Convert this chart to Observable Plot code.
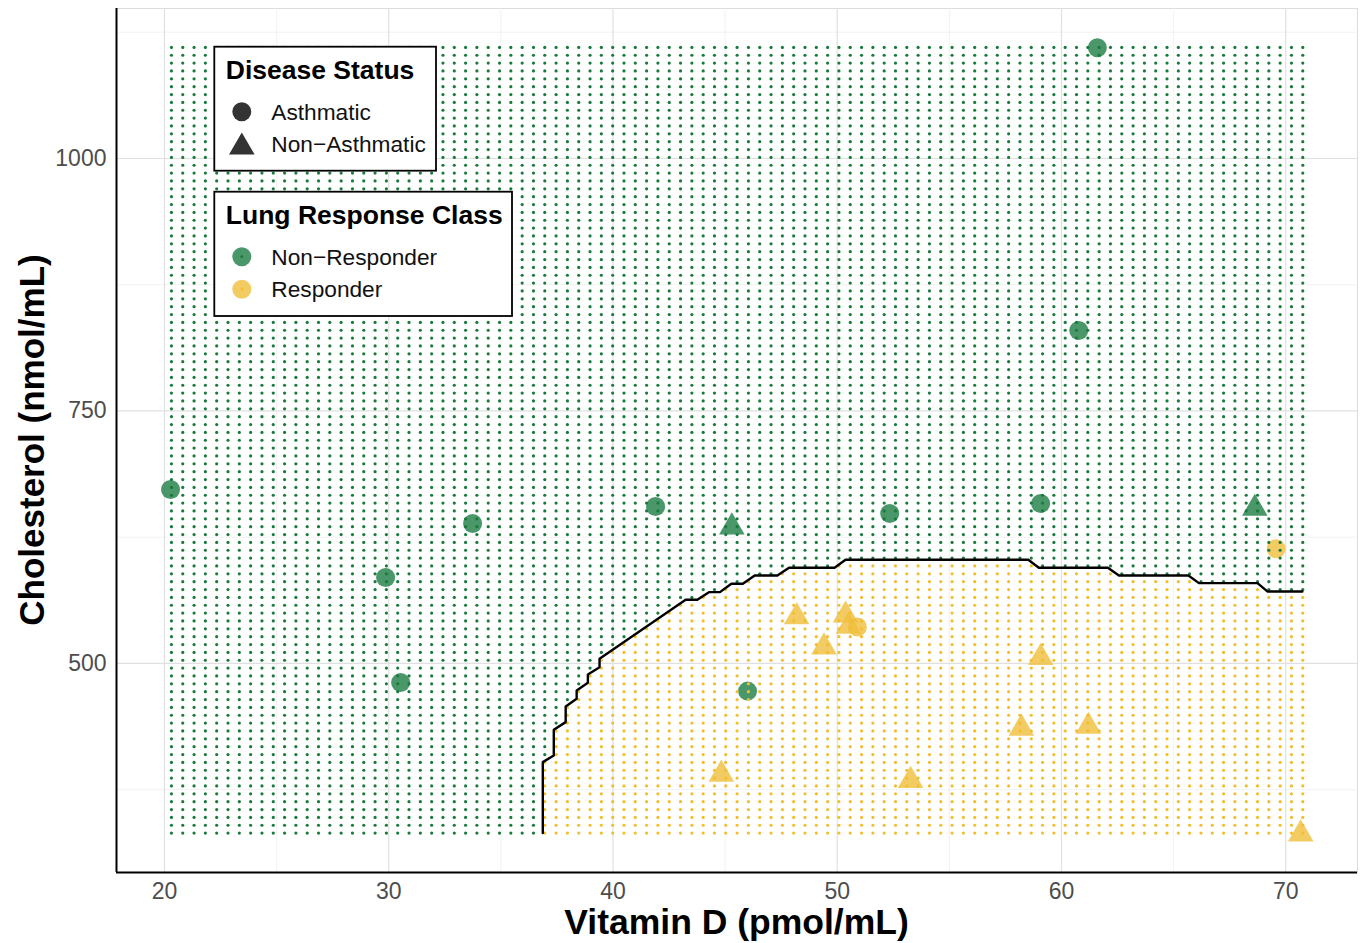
<!DOCTYPE html>
<html>
<head>
<meta charset="utf-8">
<script src="https://cdn.jsdelivr.net/npm/d3@7"></script>
<script src="https://cdn.jsdelivr.net/npm/@observablehq/plot@0.6"></script>
<style>
  html, body { margin: 0; padding: 0; background: #fff; }
  #chart { width: 1364px; height: 943px; }
</style>
</head>
<body>
<div id="chart"></div>
<script>
// ---- Observed points ----
const vitD = [20.27, 29.86, 30.53, 33.74, 41.9, 46.0, 52.34, 59.07, 60.77, 61.6,
              45.3, 68.62,
              69.57, 50.9,
              48.19, 50.37, 50.5, 49.41, 59.07, 44.83, 53.27, 58.21, 61.2, 70.67];
const cholesterol = [672.3, 585.1, 481.2, 638.6, 655.4, 472.6, 648.5, 658.4, 829.7, 1109.6,
              635, 653.5,
              613.6, 536,
              546, 547.8, 536.6, 516.2, 505.7, 390.2, 384, 435.7, 437.6, 331];
const diseaseStatus = ["Asthmatic","Asthmatic","Asthmatic","Asthmatic","Asthmatic","Asthmatic","Asthmatic","Asthmatic","Asthmatic","Asthmatic",
              "Non-Asthmatic","Non-Asthmatic",
              "Asthmatic","Asthmatic",
              "Non-Asthmatic","Non-Asthmatic","Non-Asthmatic","Non-Asthmatic","Non-Asthmatic","Non-Asthmatic","Non-Asthmatic","Non-Asthmatic","Non-Asthmatic","Non-Asthmatic"];
const responseClass = ["Non-Responder","Non-Responder","Non-Responder","Non-Responder","Non-Responder","Non-Responder","Non-Responder","Non-Responder","Non-Responder","Non-Responder",
              "Non-Responder","Non-Responder",
              "Responder","Responder",
              "Responder","Responder","Responder","Responder","Responder","Responder","Responder","Responder","Responder","Responder"];

// ---- Decision boundary (contour) ----
const boundaryX = [36.87, 36.87, 37.36, 37.36, 37.89, 37.89, 38.38, 38.38, 38.88, 38.88, 39.40, 39.40,
                   43.24, 43.76, 44.28, 44.77, 45.28, 45.79, 46.32, 47.33, 47.85, 49.88, 50.37,
                   58.52, 58.99, 62.07, 62.56, 65.66, 66.13, 68.74, 69.18, 70.74];
const boundaryY = [332, 402.3, 408.9, 434.4, 441.9, 457.4, 465.0, 473.3, 480.9, 489.1, 496.3, 504.6,
                   563.1, 563.1, 570.6, 570.6, 578.9, 578.9, 587.1, 587.1, 594.8, 594.8, 602.7,
                   602.7, 594.8, 594.8, 587.1, 587.1, 579.5, 579.5, 571.3, 571.3];

// ---- Prediction grid extent (101 x 101 lattice) ----
const gridXRange = [20.31, 70.76];
const gridYRange = [332, 1110];
const gridSteps = 100;

// ---- Axes ----
const xTicks = [20, 30, 40, 50, 60, 70];
const xMinor = [25, 35, 45, 55, 65];
const yTicks = [500, 750, 1000];
const yMinor = [375, 625, 875, 1125];
const xDomain = [17.86, 73.2];
const yDomain = [293, 1148.5];

const colors = {
  gridGreen: "#1a7a3c", gridYellow: "#f2bd2f",
  ptGreen: "#2a8550", ptYellow: "#f0be3c"
};

const points = vitD.map((x, i) => ({x, y: cholesterol[i], status: diseaseStatus[i], resp: responseClass[i]}));
const boundary = boundaryX.map((x, i) => ({x, y: boundaryY[i]}));

function boundaryAt(x) {
  if (x < boundaryX[0]) return -Infinity;
  for (let i = 0; i < boundaryX.length - 1; i++) {
    const x0 = boundaryX[i], x1 = boundaryX[i + 1];
    if (x1 > x0 && x >= x0 && x <= x1) {
      return boundaryY[i] + (boundaryY[i + 1] - boundaryY[i]) * (x - x0) / (x1 - x0);
    }
  }
  return boundaryY[boundaryY.length - 1];
}

const grid = [];
for (let i = 0; i <= gridSteps; i++) {
  const gx = gridXRange[0] + (gridXRange[1] - gridXRange[0]) * i / gridSteps;
  const b = boundaryAt(gx);
  for (let j = 0; j <= gridSteps; j++) {
    const gy = gridYRange[0] + (gridYRange[1] - gridYRange[0]) * j / gridSteps;
    grid.push({x: gx, y: gy, resp: gy < b ? "Responder" : "Non-Responder"});
  }
}

const sel = (s, r) => points.filter(d => d.status === s && d.resp === r);

const svg = Plot.plot({
  width: 1364,
  height: 943,
  marginLeft: 116,
  marginRight: 7,
  marginTop: 8,
  marginBottom: 71,
  style: {fontFamily: "'Liberation Sans', Arial, sans-serif", color: "#4d4d4d", background: "#fff"},
  x: {domain: xDomain},
  y: {domain: yDomain},
  marks: [
    Plot.frame({stroke: "#dcdcdc", strokeWidth: 1}),
    Plot.ruleX(xMinor, {stroke: "#efefef", strokeWidth: 0.8}),
    Plot.ruleY(yMinor, {stroke: "#efefef", strokeWidth: 0.8}),
    Plot.ruleX(xTicks, {stroke: "#e0e0e0", strokeWidth: 1.2}),
    Plot.ruleY(yTicks, {stroke: "#e0e0e0", strokeWidth: 1.2}),
    Plot.dot(sel("Asthmatic", "Non-Responder"), {x: "x", y: "y", r: 9.5, symbol: "circle", fill: colors.ptGreen, fillOpacity: 0.85}),
    Plot.dot(sel("Non-Asthmatic", "Non-Responder"), {x: "x", y: "y", r: 9.5, symbol: "triangle", fill: colors.ptGreen, fillOpacity: 0.85}),
    Plot.dot(sel("Asthmatic", "Responder"), {x: "x", y: "y", r: 9.5, symbol: "circle", fill: colors.ptYellow, fillOpacity: 0.8}),
    Plot.dot(sel("Non-Asthmatic", "Responder"), {x: "x", y: "y", r: 9.5, symbol: "triangle", fill: colors.ptYellow, fillOpacity: 0.8}),
    Plot.dot(grid.filter(d => d.resp === "Non-Responder"), {x: "x", y: "y", r: 1.6, fill: colors.gridGreen, stroke: null}),
    Plot.dot(grid.filter(d => d.resp === "Responder"), {x: "x", y: "y", r: 1.6, fill: colors.gridYellow, stroke: null}),
    Plot.line(boundary, {x: "x", y: "y", stroke: "#000", strokeWidth: 2.4, curve: "linear"}),
    Plot.ruleX([xDomain[0]], {stroke: "#000", strokeWidth: 2}),
    Plot.ruleY([yDomain[0]], {stroke: "#000", strokeWidth: 2}),
    Plot.axisX({ticks: xTicks, tickSize: 0, tickPadding: 10, fontSize: 23, label: null, fill: "#4d4d4d", tickFormat: d3.format("d")}),
    Plot.axisY({ticks: yTicks, tickSize: 0, tickPadding: 10, fontSize: 23, label: null, fill: "#4d4d4d", tickFormat: d3.format("d")})
  ]
});

const s = d3.select(svg);
const font = "'Liberation Sans', Arial, sans-serif";

// Axis titles
s.append("text")
  .attr("x", 736.5).attr("y", 934)
  .attr("text-anchor", "middle")
  .attr("font-family", font).attr("font-weight", "bold").attr("font-size", 35.5)
  .attr("fill", "#000")
  .text("Vitamin D (pmol/mL)");
s.append("text")
  .attr("transform", "translate(44,440) rotate(-90)")
  .attr("text-anchor", "middle")
  .attr("font-family", font).attr("font-weight", "bold").attr("font-size", 35)
  .attr("fill", "#000")
  .text("Cholesterol (nmol/mL)");

// Legends
function legendBox(x, y, w, h, title, items) {
  const g = s.append("g").attr("text-anchor", "start");
  g.append("rect").attr("x", x).attr("y", y).attr("width", w).attr("height", h)
    .attr("fill", "#fff").attr("stroke", "#000").attr("stroke-width", 1.8);
  g.append("text").attr("x", x + 11.5).attr("y", y + 32)
    .attr("text-anchor", "start")
    .attr("font-family", font).attr("font-weight", "bold").attr("font-size", 26.5)
    .attr("fill", "#000").text(title);
  items.forEach((it, k) => {
    const cy = y + 65 + k * 32.5;
    const sym = d3.symbol().type(it.symbol === "triangle" ? d3.symbolTriangle : d3.symbolCircle).size(Math.PI * 9.5 * 9.5);
    g.append("path").attr("d", sym())
      .attr("transform", `translate(${x + 27.5},${cy + (it.symbol === "triangle" ? 3 : 0)})`)
      .attr("fill", it.fill).attr("fill-opacity", it.opacity);
    if (it.dot) {
      g.append("circle").attr("cx", x + 27.5).attr("cy", cy).attr("r", 1.4).attr("fill", it.dot);
    }
    g.append("text").attr("x", x + 57).attr("y", cy + 8)
      .attr("text-anchor", "start")
      .attr("font-family", font).attr("font-size", 22.7).attr("fill", "#111").text(it.label);
  });
}
legendBox(214.3, 46.7, 221.7, 124, "Disease Status", [
  {symbol: "circle", fill: "#333", opacity: 1, label: "Asthmatic"},
  {symbol: "triangle", fill: "#333", opacity: 1, label: "Non\u2212Asthmatic"}
]);
legendBox(214.3, 191.7, 297.7, 124.3, "Lung Response Class", [
  {symbol: "circle", fill: colors.ptGreen, opacity: 0.85, dot: colors.gridGreen, label: "Non\u2212Responder"},
  {symbol: "circle", fill: colors.ptYellow, opacity: 0.8, dot: colors.gridYellow, label: "Responder"}
]);

document.getElementById("chart").appendChild(svg);
</script>
</body>
</html>
